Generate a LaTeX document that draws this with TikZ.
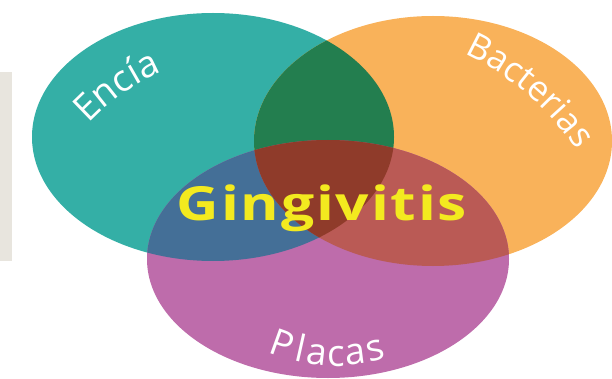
\documentclass[tikz,border=0pt]{standalone}
\usepackage{fontspec}
\setmainfont{Open Sans}
\newfontfamily\setfont[LetterSpace=4]{Open Sans}
\usetikzlibrary{calc}
\usetikzlibrary{decorations.text}
\definecolor{enciacol}{HTML}{34AFA6}
\definecolor{bactcol}{HTML}{F9B25A}
\definecolor{placacol}{HTML}{BE6CAB}
\definecolor{eb}{HTML}{237E4F}
\definecolor{ep}{HTML}{446F97}
\definecolor{bp}{HTML}{BA5A55}
\definecolor{ebp}{HTML}{8F3B2A}
\definecolor{sidegray}{HTML}{E8E5DE}
\definecolor{gingyellow}{HTML}{F3EA1F}

% the three sets
\def\encia{(213,-137) ellipse [x radius=181, y radius=124]}
\def\bact{(433,-141) ellipse [x radius=179, y radius=125]}
\def\placa{(328,-259) ellipse [x radius=181, y radius=119]}

\begin{document}
\begin{tikzpicture}[x=1pt, y=1pt,
    arctext/.style={decorate, decoration={text along path, text align=center, text color=white, text={#1}}},
    letter/.style={anchor=base, inner sep=0pt, text=white, font=\fontsize{37}{37}\selectfont}]
    \useasboundingbox (0,0) rectangle (612,-379);
    \fill[sidegray] (0,-72) rectangle (12,-261);

    \fill[enciacol] \encia;
    \fill[bactcol] \bact;
    \fill[placacol] \placa;

    % overlaps
    \begin{scope}
        \clip \encia;
        \fill[eb] \bact;
        \fill[ep] \placa;
    \end{scope}
    \begin{scope}
        \clip \bact;
        \fill[bp] \placa;
    \end{scope}
    \begin{scope}
        \clip \encia;
        \clip \bact;
        \fill[ebp] \placa;
    \end{scope}

    % curved labels
    \path[arctext={|\setfont\fontsize{37}{37}\selectfont|Encía}]
        (250,-276) ++(155:222) arc[start angle=155, end angle=95, radius=222];
    \path[arctext={|\setfont\fontsize{35}{35}\selectfont|Bacterias}]
        (351,-300) ++(79.5:271) arc[start angle=79.5, end angle=19.5, radius=271];
    \coordinate (placac) at (335,-197);
    \foreach \ch/\ang [count=\i] in {P/250.3, l/257.3, a/263.3, c/270.3, a/277.3, s/284.8}
        \node[letter, rotate=\ang+90] (placas\i) at ($(placac)+(\ang:169)$) {\ch};

    \node[anchor=base, inner sep=0pt, xscale=1.25, text=gingyellow, font=\bfseries\fontsize{47}{47}\selectfont\addfontfeature{LetterSpace=3}] (gingivitis) at (322,-220) {Gingivitis};
\end{tikzpicture}
\end{document}
